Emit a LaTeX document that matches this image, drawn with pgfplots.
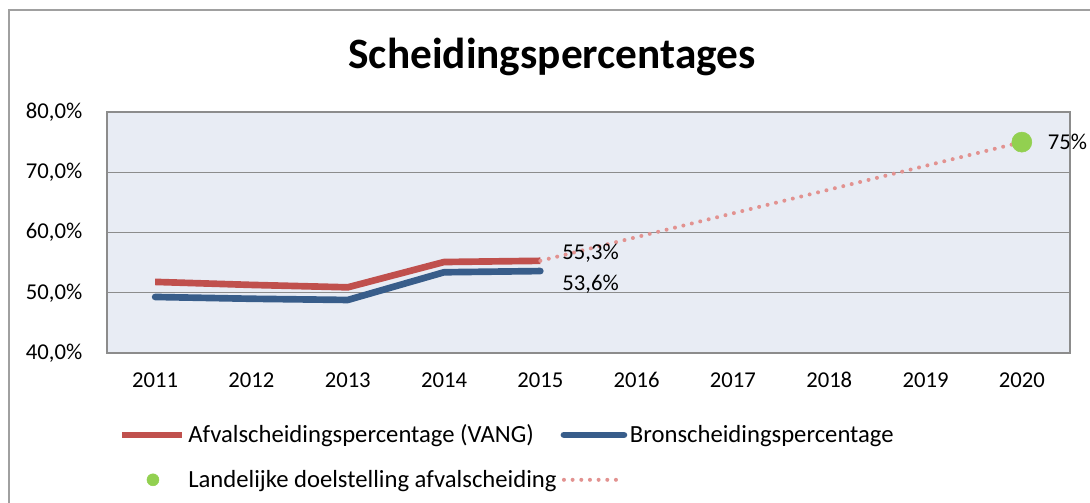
\documentclass[border=0pt]{standalone}
\usepackage{pgfplots}
\pgfplotsset{compat=1.18}
\usepackage{fontspec}
\setmainfont{Carlito}
\definecolor{bgc}{RGB}{232,236,244}
\definecolor{redl}{RGB}{192,80,77}
\definecolor{bluel}{RGB}{56,93,138}
\definecolor{greenm}{RGB}{146,208,80}
\definecolor{pinkd}{RGB}{226,146,144}
\definecolor{gridc}{RGB}{140,140,140}
\definecolor{framec}{RGB}{160,160,160}
\pgfplotsset{
  lineleg/.style={legend image code/.code={\draw[##1] (0pt,0pt) -- (45pt,0pt);}},
  dotleg/.style={legend image code/.code={\draw[##1, mark size=4.5pt] plot coordinates {(23pt,0pt)};}},
}
\begin{document}
\begin{tikzpicture}
\useasboundingbox (0,0) rectangle (817.5pt,377.25pt);
\draw[framec, line width=1.5pt] (6.75pt,-5pt) -- (6.75pt,369.75pt) -- (825pt,369.75pt);
\node[font=\bfseries\fontsize{32.5}{38}\selectfont] at (414pt,334.5pt) {Scheidingspercentages};
\begin{axis}[
  at={(80.25pt,112.5pt)}, anchor=south west,
  scale only axis, width=722.25pt, height=180.75pt,
  xmin=-0.5, xmax=9.5, ymin=40, ymax=80,
  xtick={0,...,9},
  xticklabels={2011,2012,2013,2014,2015,2016,2017,2018,2019,2020},
  ytick={40,50,60,70,80},
  yticklabels={{40,0\%},{50,0\%},{60,0\%},{70,0\%},{80,0\%}},
  major tick length=0pt,
  ymajorgrids, grid style={gridc, line width=0.9pt},
  axis background/.style={fill=bgc},
  axis line style={gridc, line width=1.1pt},
  tick label style={font=\fontsize{17}{20}\selectfont},
  yticklabel style={xshift=-15pt},
  xticklabel style={yshift=-11pt},
  legend columns=2,
  legend cell align=left,
  legend style={draw=none, fill=none, at={(0.008,-0.275)}, anchor=north west,
    font=\fontsize{18.5}{21}\selectfont, row sep=15pt,
    /tikz/every even column/.append style={column sep=1pt}},
  clip=false,
]
\addplot[redl, line width=5pt, line cap=butt, line join=round, lineleg]
  coordinates {(0,51.8) (1,51.3) (2,50.9) (3,55.1) (4,55.3)};
\addlegendentry{Afvalscheidingspercentage (VANG)}
\addplot[bluel, line width=5pt, line cap=round, line join=round, lineleg]
  coordinates {(0,49.3) (1,49.0) (2,48.8) (3,53.4) (4,53.6)};
\addlegendentry{Bronscheidingspercentage}
\addplot[only marks, mark=*, mark size=7.5pt, color=greenm, mark options={draw=greenm, fill=greenm}, dotleg]
  coordinates {(9,75)};
\addlegendentry{Landelijke doelstelling afvalscheiding}
\addplot[pinkd, line width=3pt, line cap=round, dash pattern=on 0pt off 6.5pt, lineleg]
  coordinates {(4,55.3) (9,75)};
\addlegendentry{}
\node[anchor=west, font=\fontsize{17}{20}\selectfont, xshift=13pt, yshift=6pt] at (axis cs:4,55.3) {55,3\%};
\node[anchor=west, font=\fontsize{17}{20}\selectfont, xshift=13pt, yshift=-10pt] at (axis cs:4,53.6) {53,6\%};
\node[anchor=west, font=\fontsize{17}{20}\selectfont, xshift=16pt] at (axis cs:9,75) {75\%};
\end{axis}
\end{tikzpicture}
\end{document}
